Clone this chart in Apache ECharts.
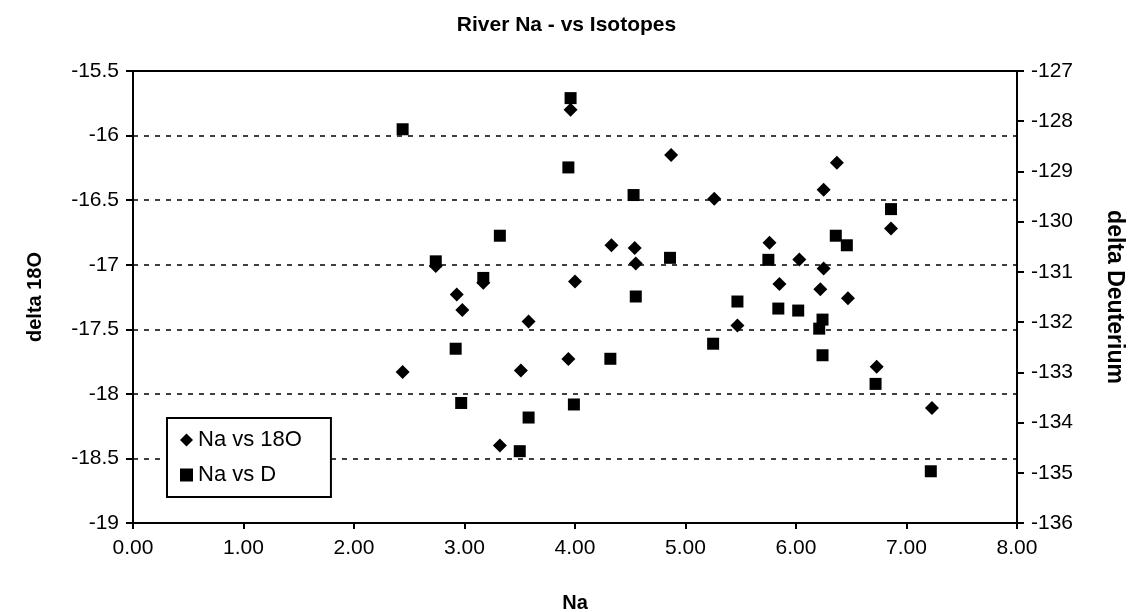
<!DOCTYPE html>
<html>
<head>
<meta charset="utf-8">
<script src="https://cdn.jsdelivr.net/npm/echarts@6/dist/echarts.min.js"></script>
<style>
  html, body { margin: 0; padding: 0; background: #fff; }
  #chart { width: 1133px; height: 612px; }
</style>
</head>
<body>
<div id="chart"></div>
<script>
// River sodium concentration against the two water isotopes
const na = [2.44, 2.74, 2.92, 2.97, 3.17, 3.32, 3.50, 3.58, 3.94, 3.96, 3.99, 4.32, 4.53, 4.55,
            4.86, 5.25, 5.47, 5.75, 5.84, 6.02, 6.21, 6.24, 6.24, 6.36, 6.46, 6.72, 6.86, 7.22];
const naO = [2.44, 2.74, 2.93, 2.98, 3.17, 3.32, 3.51, 3.58, 3.94, 3.96, 4.00, 4.33, 4.54, 4.55,
             4.87, 5.26, 5.47, 5.76, 5.85, 6.03, 6.22, 6.25, 6.25, 6.37, 6.47, 6.73, 6.86, 7.23];
const delta18O = [-17.83, -17.01, -17.23, -17.35, -17.14, -18.40, -17.82, -17.44, -17.73, -15.80,
                  -17.13, -16.85, -16.87, -16.99, -16.15, -16.49, -17.47, -16.83, -17.15, -16.96,
                  -17.19, -16.42, -17.03, -16.21, -17.26, -17.79, -16.72, -18.11];
const deltaD = [-128.16, -130.79, -132.53, -133.61, -131.12, -130.28, -134.57, -133.90, -128.92, -127.54,
                -133.64, -132.73, -129.47, -131.49, -130.72, -132.43, -131.59, -130.76, -131.73, -131.77,
                -132.13, -131.95, -132.66, -130.28, -130.47, -133.23, -129.75, -134.97];

const seriesNames = ['Na vs 18O', 'Na vs D'];
const xRange = { min: 0, max: 8, step: 1 };
const leftRange = { min: -19, max: -15.5, step: 0.5 };
const rightRange = { min: -136, max: -127, step: 1 };

const font = '"Liberation Sans", Arial, sans-serif';

const chart = echarts.init(document.getElementById('chart'), null, { renderer: 'canvas' });

chart.setOption({
  backgroundColor: '#fff',
  animation: false,
  title: {
    text: 'River Na - vs Isotopes',
    left: 'center',
    top: 10,
    textStyle: { fontFamily: font, fontWeight: 'bold', fontSize: 21, color: '#000' }
  },
  grid: {
    left: 133, right: 116, top: 71, bottom: 89,
    containLabel: false,
    outerBoundsMode: 'none',
    show: true, borderColor: '#000', borderWidth: 2, backgroundColor: 'transparent'
  },
  legend: {
    orient: 'vertical',
    left: 167, top: 418,
    padding: [11, 29, 11, 13],
    itemGap: 13,
    itemWidth: 13, itemHeight: 13,
    borderColor: '#000', borderWidth: 2,
    backgroundColor: '#fff',
    textStyle: { fontFamily: font, fontSize: 22, color: '#000' },
    data: [
      { name: seriesNames[0], icon: 'diamond' },
      { name: seriesNames[1], icon: 'rect' }
    ]
  },
  xAxis: {
    type: 'value',
    min: xRange.min, max: xRange.max, interval: xRange.step,
    name: 'Na', nameLocation: 'middle', nameGap: 70,
    nameTextStyle: { fontFamily: font, fontWeight: 'bold', fontSize: 20, color: '#000' },
    axisLine: { lineStyle: { color: '#000', width: 2 } },
    axisTick: { show: true, length: 6, lineStyle: { color: '#000', width: 2 } },
    axisLabel: { fontFamily: font, fontSize: 21, color: '#000', margin: 15,
                 formatter: v => v.toFixed(2) },
    splitLine: { show: false }
  },
  yAxis: [
    {
      type: 'value', position: 'left',
      min: leftRange.min, max: leftRange.max, interval: leftRange.step,
      name: 'delta 18O', nameLocation: 'middle', nameGap: 88, nameRotate: 90,
      nameTextStyle: { fontFamily: font, fontWeight: 'bold', fontSize: 20, color: '#000' },
      axisLine: { show: true, lineStyle: { color: '#000', width: 2 } },
      axisTick: { show: true, length: 7, lineStyle: { color: '#000', width: 2 } },
      axisLabel: { fontFamily: font, fontSize: 21, color: '#000', margin: 14,
                   formatter: v => String(v) },
      splitLine: { show: true, lineStyle: { color: '#000', type: [5, 6], width: 1.5 } }
    },
    {
      type: 'value', position: 'right',
      min: rightRange.min, max: rightRange.max, interval: rightRange.step,
      name: 'delta Deuterium', nameLocation: 'middle', nameGap: 86, nameRotate: -90,
      nameTextStyle: { fontFamily: font, fontWeight: 'bold', fontSize: 23, color: '#000' },
      axisLine: { show: true, lineStyle: { color: '#000', width: 2 } },
      axisTick: { show: true, length: 7, inside: false, lineStyle: { color: '#000', width: 2 } },
      axisLabel: { fontFamily: font, fontSize: 21, color: '#000', margin: 14 },
      splitLine: { show: false }
    }
  ],
  series: [
    {
      name: seriesNames[0], type: 'scatter', yAxisIndex: 0,
      symbol: 'diamond', symbolSize: 14,
      itemStyle: { color: '#000', opacity: 1 },
      data: naO.map((x, i) => [x, delta18O[i]])
    },
    {
      name: seriesNames[1], type: 'scatter', yAxisIndex: 1,
      symbol: 'rect', symbolSize: 12,
      itemStyle: { color: '#000', opacity: 1 },
      data: na.map((x, i) => [x, deltaD[i]])
    }
  ]
});
</script>
</body>
</html>
